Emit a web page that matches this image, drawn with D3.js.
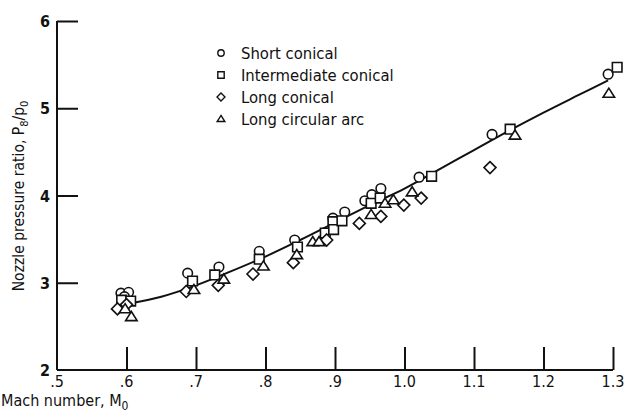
<!DOCTYPE html>
<html>
<head>
<meta charset="utf-8">
<script src="https://cdn.jsdelivr.net/npm/d3@7"></script>
<style>
  html, body { margin: 0; padding: 0; background: #fff; }
  svg { display: block; }
  text { font-family: 'DejaVu Sans Condensed', 'Liberation Sans Narrow', 'DejaVu Sans', sans-serif; font-stretch: condensed; fill: #111; }
</style>
</head>
<body>
<script>
// Nozzle pressure ratio vs. free-stream Mach number, four nozzle shapes
const shortConical = [
  [0.592, 2.88], [0.603, 2.89], [0.597, 2.84],
  [0.688, 3.11], [0.733, 3.18], [0.791, 3.36], [0.842, 3.49],
  [0.897, 3.74], [0.914, 3.81], [0.943, 3.94], [0.953, 4.01], [0.966, 4.08],
  [1.021, 4.21], [1.126, 4.70], [1.293, 5.39]
];
const intermediateConical = [
  [0.593, 2.80], [0.606, 2.79],
  [0.695, 3.02], [0.727, 3.09], [0.791, 3.27], [0.846, 3.41],
  [0.886, 3.57], [0.897, 3.70], [0.898, 3.61], [0.910, 3.71], [0.952, 3.91], [0.965, 3.97],
  [1.039, 4.22], [1.152, 4.76], [1.306, 5.47]
];
const longConical = [
  [0.587, 2.70], [0.600, 2.75],
  [0.686, 2.90], [0.732, 2.97], [0.782, 3.10], [0.840, 3.23],
  [0.888, 3.49], [0.935, 3.68], [0.966, 3.76], [0.999, 3.89], [1.024, 3.97],
  [1.123, 4.32]
];
const longCircularArc = [
  [0.598, 2.70], [0.607, 2.61],
  [0.697, 2.92], [0.740, 3.04], [0.797, 3.19], [0.845, 3.32],
  [0.868, 3.47], [0.877, 3.47], [0.952, 3.78], [0.972, 3.91], [0.984, 3.95], [1.011, 4.04],
  [1.159, 4.69], [1.294, 5.17]
];
// Faired curve through the data
const fairing = [
  [0.603, 2.76], [0.65, 2.84], [0.70, 2.97], [0.75, 3.13], [0.80, 3.30],
  [0.85, 3.49], [0.90, 3.69], [0.95, 3.89], [1.00, 4.08], [1.05, 4.30],
  [1.10, 4.52], [1.15, 4.74], [1.20, 4.95], [1.25, 5.15], [1.293, 5.32]
];
const xTicks = [0.5, 0.6, 0.7, 0.8, 0.9, 1.0, 1.1, 1.2, 1.3];
const xTickLabels = [".5", ".6", ".7", ".8", ".9", "1.0", "1.1", "1.2", "1.3"];
const yTicks = [2, 3, 4, 5, 6];
const legendLabels = ["Short conical", "Intermediate conical", "Long conical", "Long circular arc"];

const W = 627, H = 418;
const x = d3.scaleLinear().domain([0.5, 1.3]).range([57, 613]);
const y = d3.scaleLinear().domain([2, 6]).range([370, 21]);

const svg = d3.select("body").append("svg").attr("width", W).attr("height", H);

// Axes: ticks point into the plot
const xAxis = d3.axisTop(x).tickValues(xTicks.slice(1)).tickSize(23).tickFormat("");
svg.append("g").attr("transform", `translate(0,${y(2)})`).call(xAxis)
  .call(g => g.select(".domain").remove())
  .call(g => g.selectAll(".tick line").attr("stroke", "#111").attr("stroke-width", 2));
const yAxis = d3.axisRight(y).tickValues(yTicks.slice(1)).tickSize(21).tickFormat("");
svg.append("g").attr("transform", `translate(${x(0.5)},0)`).call(yAxis)
  .call(g => g.select(".domain").remove())
  .call(g => g.selectAll(".tick line").attr("stroke", "#111").attr("stroke-width", 2));

// Axis lines
svg.append("line").attr("x1", x(0.5)).attr("x2", x(1.3)).attr("y1", y(2)).attr("y2", y(2))
  .attr("stroke", "#111").attr("stroke-width", 2);
svg.append("line").attr("x1", x(0.5)).attr("x2", x(0.5)).attr("y1", y(2)).attr("y2", y(6))
  .attr("stroke", "#111").attr("stroke-width", 2);

// Tick labels
svg.selectAll(".xl").data(xTicks).enter().append("text")
  .attr("x", d => x(d)).attr("y", y(2) + 17)
  .attr("text-anchor", "middle").style("font-size", "16px")
  .text((d, i) => xTickLabels[i]);
svg.selectAll(".yl").data(yTicks).enter().append("text")
  .attr("x", x(0.5) - 12).attr("y", d => y(d) + 6)
  .attr("text-anchor", "middle").style("font-size", "16px").style("font-weight", "bold")
  .text(d => d);

// Axis titles
const xt = svg.append("text").attr("x", 1).attr("y", 406).style("font-size", "16px");
xt.append("tspan").text("Mach number, M");
xt.append("tspan").attr("dy", 4).style("font-size", "12px").text("0");

const yt = svg.append("text").attr("transform", `translate(24,${196}) rotate(-90)`)
  .attr("text-anchor", "middle").style("font-size", "15.5px");
yt.append("tspan").text("Nozzle pressure ratio,  P");
yt.append("tspan").attr("dy", 4).style("font-size", "11px").text("8");
yt.append("tspan").attr("dy", -4).text("/p");
yt.append("tspan").attr("dy", 4).style("font-size", "11px").text("0");

// Faired curve
svg.append("path").datum(fairing)
  .attr("d", d3.line().x(d => x(d[0])).y(d => y(d[1])).curve(d3.curveCatmullRom))
  .attr("fill", "none").attr("stroke", "#111").attr("stroke-width", 2);

// Marker shapes
const shapes = {
  circle: s => `M${-s},0A${s},${s} 0 1,0 ${s},0A${s},${s} 0 1,0 ${-s},0Z`,
  square: s => `M${-s},${-s}H${s}V${s}H${-s}Z`,
  diamond: s => `M0,${-s * 1.25}L${s * 1.25},0L0,${s * 1.25}L${-s * 1.25},0Z`,
  triangle: s => `M0,${-s * 1.1}L${s * 1.2},${s * 0.8}L${-s * 1.2},${s * 0.8}Z`
};
const series = [
  { data: shortConical, shape: "circle" },
  { data: intermediateConical, shape: "square" },
  { data: longConical, shape: "diamond" },
  { data: longCircularArc, shape: "triangle" }
];
series.forEach(sr => {
  svg.append("g").selectAll("path").data(sr.data).enter().append("path")
    .attr("transform", d => `translate(${x(d[0])},${y(d[1])})`)
    .attr("d", shapes[sr.shape](4.8))
    .attr("fill", "#fff").attr("stroke", "#111").attr("stroke-width", 1.6);
});

// Legend
const lg = svg.append("g").attr("transform", "translate(221,53)");
series.forEach((sr, i) => {
  lg.append("path").attr("transform", `translate(0,${i * 22})`)
    .attr("d", shapes[sr.shape](3.2))
    .attr("fill", "#fff").attr("stroke", "#111").attr("stroke-width", 1.4);
  lg.append("text").attr("x", 20).attr("y", i * 22 + 6)
    .style("font-size", "16.5px").text(legendLabels[i]);
});
</script>
</body>
</html>
